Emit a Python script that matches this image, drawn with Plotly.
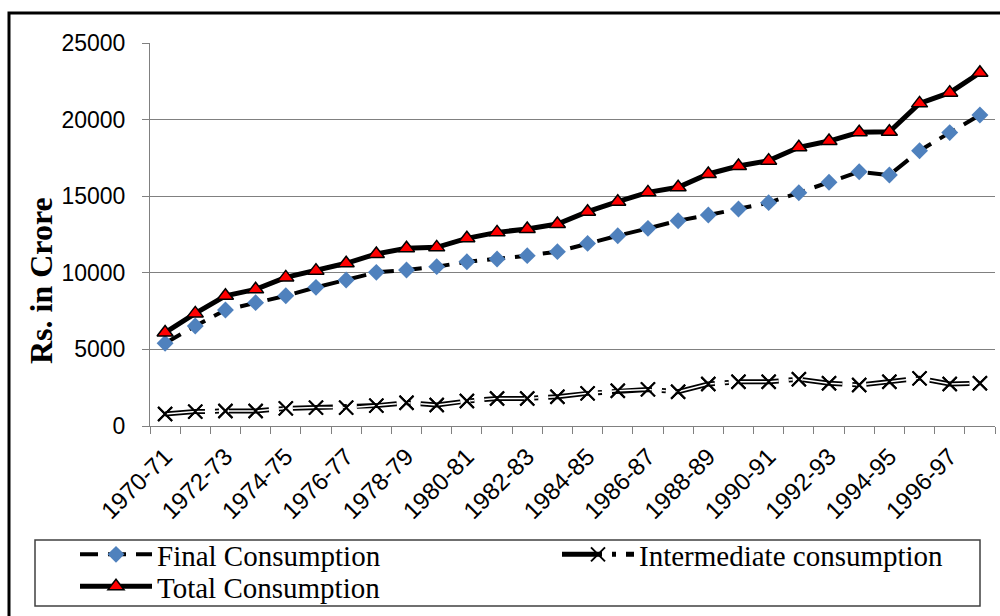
import plotly.graph_objects as go

years = ["1970-71","1971-72","1972-73","1973-74","1974-75","1975-76","1976-77","1977-78",
         "1978-79","1979-80","1980-81","1981-82","1982-83","1983-84","1984-85","1985-86",
         "1986-87","1987-88","1988-89","1989-90","1990-91","1991-92","1992-93","1993-94",
         "1994-95","1995-96","1996-97","1997-98"]

final_consumption = [5400, 6530, 7570, 8050, 8500, 9050, 9530, 10030, 10180, 10400,
                     10720, 10900, 11120, 11380, 11920, 12420, 12900, 13400, 13770, 14160,
                     14580, 15230, 15910, 16600, 16380, 17970, 19150, 20300]

intermediate_consumption = [780, 940, 980, 980, 1150, 1200, 1200, 1330, 1520, 1370,
                            1630, 1800, 1800, 1910, 2130, 2300, 2390, 2240, 2740, 2890,
                            2890, 3050, 2790, 2680, 2890, 3110, 2740, 2790]

total_consumption = [6100, 7350, 8500, 8920, 9700, 10140, 10620, 11230, 11600, 11660,
                     12250, 12640, 12860, 13180, 13990, 14640, 15250, 15580, 16450, 16970,
                     17320, 18190, 18600, 19170, 19210, 21060, 21760, 23060]

tick_labels = [y if i % 2 == 0 else "" for i, y in enumerate(years)]

SERIF = "Times New Roman, Liberation Serif, serif"
SANS = "Arial, Liberation Sans, sans-serif"

fig = go.Figure()

fig.add_trace(go.Scatter(
    x=years, y=final_consumption, name="Final Consumption", mode="lines+markers",
    line=dict(color="black", width=4, dash="18px,10px"),
    marker=dict(symbol="diamond", size=13, color="#4F81BD", line=dict(width=0)),
    legend="legend",
))

# Intermediate: double line (black outline, white core)
fig.add_trace(go.Scatter(
    x=years, y=intermediate_consumption, name="Intermediate consumption", mode="lines+markers",
    line=dict(color="black", width=5, dash="40px,10px,4px,10px"),
    marker=dict(symbol="x-thin", size=14, color="black", line=dict(width=2, color="black")),
    legend="legend2",
))
fig.add_trace(go.Scatter(
    x=years, y=intermediate_consumption, mode="lines", showlegend=False,
    line=dict(color="white", width=1.5, dash="40px,10px,4px,10px"),
    hoverinfo="skip",
))
fig.add_trace(go.Scatter(
    x=years, y=intermediate_consumption, mode="markers", showlegend=False,
    marker=dict(symbol="x-thin", size=14, color="black", line=dict(width=2, color="black")),
    hoverinfo="skip",
))

fig.add_trace(go.Scatter(
    x=years, y=total_consumption, name="Total Consumption", mode="lines+markers",
    line=dict(color="black", width=5),
    marker=dict(symbol="triangle-up", size=14, color="#FF0000", line=dict(width=1.5, color="black")),
    legend="legend3",
))

L, R, T, B = 150, 5, 43, 190
W, H = 1000, 616
pw, ph = W - L - R, H - T - B

def px_x(p):
    return (p - L) / pw

def px_y(p):
    return (H - B - p) / ph

def leg(x, y):
    return dict(
        orientation="v", xref="container", yref="container",
        x=x / W, y=1 - y / H, xanchor="left", yanchor="top", itemwidth=72,
        font=dict(family=SERIF, size=29, color="black"),
        bgcolor="rgba(0,0,0,0)", borderwidth=0,
    )

fig.update_layout(
    width=W, height=H,
    margin=dict(l=L, r=R, t=T, b=B, autoexpand=False),
    paper_bgcolor="white", plot_bgcolor="white",
    showlegend=True,
    legend=leg(75, 529),
    legend2=leg(557, 529),
    legend3=leg(75, 561),
    xaxis=dict(
        type="category", tickmode="array", tickvals=years, ticktext=tick_labels,
        tickangle=-45, tickson="boundaries", ticks="outside", ticklen=7,
        tickcolor="#808080", showline=True, linecolor="#808080", linewidth=1,
        showgrid=False, tickfont=dict(family=SANS, size=24, color="black"),
        ticklabelstandoff=6, range=[-0.5, 27.5],
    ),
    yaxis=dict(
        range=[0, 25000], dtick=5000, tickmode="linear", tick0=0, tickformat="d",
        ticks="outside", ticklen=7, tickcolor="#808080",
        showline=True, linecolor="#808080", linewidth=1,
        showgrid=True, gridcolor="#808080", gridwidth=1, zeroline=False,
        tickfont=dict(family=SANS, size=23, color="black"),
        ticklabelstandoff=12,
    ),
    annotations=[
        dict(text="<b>Rs. in Crore</b>", xref="paper", yref="paper",
             x=px_x(41), y=px_y(280), textangle=-90, showarrow=False,
             xanchor="center", yanchor="middle",
             font=dict(family=SERIF, size=32, color="black")),
    ],
    shapes=[
        dict(type="rect", xref="paper", yref="paper",
             x0=px_x(35), x1=px_x(980), y0=px_y(606), y1=px_y(540),
             line=dict(color="#404040", width=1.5), fillcolor="rgba(0,0,0,0)", layer="below"),
        dict(type="rect", xref="paper", yref="paper",
             x0=px_x(9), x1=px_x(1010), y0=px_y(630), y1=px_y(13),
             line=dict(color="black", width=3), fillcolor="rgba(0,0,0,0)", layer="below"),
    ],
)

fig.write_html("out.html", config={"displayModeBar": False},
               post_script="document.body.style.margin='0';")
